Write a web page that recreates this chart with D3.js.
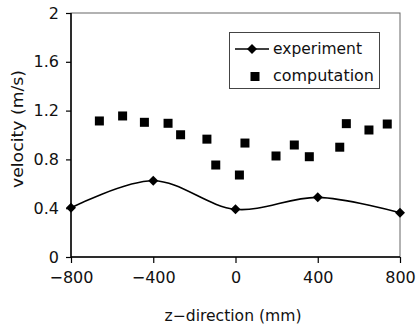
<!DOCTYPE html>
<html><head><meta charset="utf-8">
<script src="https://cdn.jsdelivr.net/npm/d3@7"></script>
<style>body{margin:0;background:#fff}svg{display:block}text{font-family:"DejaVu Sans",sans-serif;fill:#111}</style>
</head><body><svg id="c" width="418" height="328"></svg>
<script>
const expZ = [-800, -400, 0, 400, 800];
const expV = [0.404, 0.625, 0.391, 0.489, 0.363];
const compZ = [-662, -549, -443, -328, -267, -139, -96, 19, 46, 197, 286, 359, 507, 539, 649, 738];
const compV = [1.115, 1.156, 1.104, 1.096, 1.002, 0.966, 0.754, 0.672, 0.934, 0.828, 0.918, 0.822, 0.90, 1.093, 1.041, 1.090];
const xTicks = [-800, -400, 0, 400, 800];
const yTicks = [0, 0.4, 0.8, 1.2, 1.6, 2];
const seriesNames = ["experiment", "computation"];

const svg = d3.select("#c");
const L = 71, R = 400, T = 13, B = 257;
const x = d3.scaleLinear().domain([-800, 800]).range([L, R]);
const y = d3.scaleLinear().domain([0, 2]).range([B, T]);

// frame
svg.append("rect").attr("x", L).attr("y", T).attr("width", R - L).attr("height", B - T)
  .attr("fill", "none").attr("stroke", "#666").attr("stroke-width", 1);

const fmtMinus = d => String(d).replace("-", "\u2212");
const gx = svg.append("g").attr("transform", `translate(0,${B})`)
  .call(d3.axisBottom(x).tickValues(xTicks).tickSize(6).tickPadding(9).tickFormat(fmtMinus));
const gy = svg.append("g").attr("transform", `translate(${L},0)`)
  .call(d3.axisLeft(y).tickValues(yTicks).tickSize(5).tickPadding(7).tickFormat(d => String(d)));
[gx, gy].forEach(g => {
  g.select(".domain").attr("stroke", "#000").attr("stroke-width", 1.5);
  g.selectAll(".tick line").attr("stroke", "#000").attr("stroke-width", 1.2);
  g.selectAll("text").attr("font-family", "DejaVu Sans").attr("font-size", 16).attr("fill", "#111");
});
gx.selectAll("text").attr("dy", "0.68em");
gy.select(".domain").attr("d", `M0,${B}V${T}`);
gx.select(".domain").attr("d", `M${L},0H${R}`);

// titles
svg.append("text").attr("x", 233).attr("y", 321).attr("text-anchor", "middle")
  .attr("font-size", 15).attr("textLength", 137).attr("lengthAdjust", "spacingAndGlyphs")
  .text("z\u2212direction (mm)");
svg.append("text").attr("transform", "translate(23,129) rotate(-90)").attr("text-anchor", "middle")
  .attr("font-size", 15).attr("textLength", 118).attr("lengthAdjust", "spacingAndGlyphs")
  .text("velocity (m/s)");

// experiment line
const expData = expZ.map((z, i) => [z, expV[i]]);
svg.append("path").datum(expData)
  .attr("d", d3.line().x(d => x(d[0])).y(d => y(d[1])).curve(d3.curveCatmullRom.alpha(0.5)))
  .attr("fill", "none").attr("stroke", "#000").attr("stroke-width", 1.6);
const diamond = d3.symbol().type(d3.symbolSquare).size(50);
svg.selectAll(".dm").data(expData).enter().append("path")
  .attr("d", diamond).attr("transform", d => `translate(${x(d[0])},${y(d[1])}) rotate(45)`)
  .attr("fill", "#000");

// computation squares
svg.selectAll(".sq").data(compZ.map((z, i) => [z, compV[i]])).enter().append("rect")
  .attr("x", d => x(d[0]) - 4.5).attr("y", d => y(d[1]) - 4.5)
  .attr("width", 9).attr("height", 9).attr("fill", "#000");

// legend
const lg = svg.append("g");
lg.append("rect").attr("x", 229.5).attr("y", 32.5).attr("width", 150).attr("height", 56)
  .attr("fill", "#fff").attr("stroke", "#444").attr("stroke-width", 1);
lg.append("line").attr("x1", 235).attr("x2", 269).attr("y1", 49).attr("y2", 49)
  .attr("stroke", "#000").attr("stroke-width", 1.6);
lg.append("path").attr("d", diamond).attr("transform", "translate(252,49) rotate(45)").attr("fill", "#000");
lg.append("rect").attr("x", 250.5).attr("y", 72).attr("width", 9).attr("height", 9).attr("fill", "#000");
lg.append("text").attr("x", 273).attr("y", 54).attr("font-size", 15)
  .attr("textLength", 89).attr("lengthAdjust", "spacingAndGlyphs").text(seriesNames[0]);
lg.append("text").attr("x", 273).attr("y", 81).attr("font-size", 15)
  .attr("textLength", 101).attr("lengthAdjust", "spacingAndGlyphs").text(seriesNames[1]);
</script></body></html>
